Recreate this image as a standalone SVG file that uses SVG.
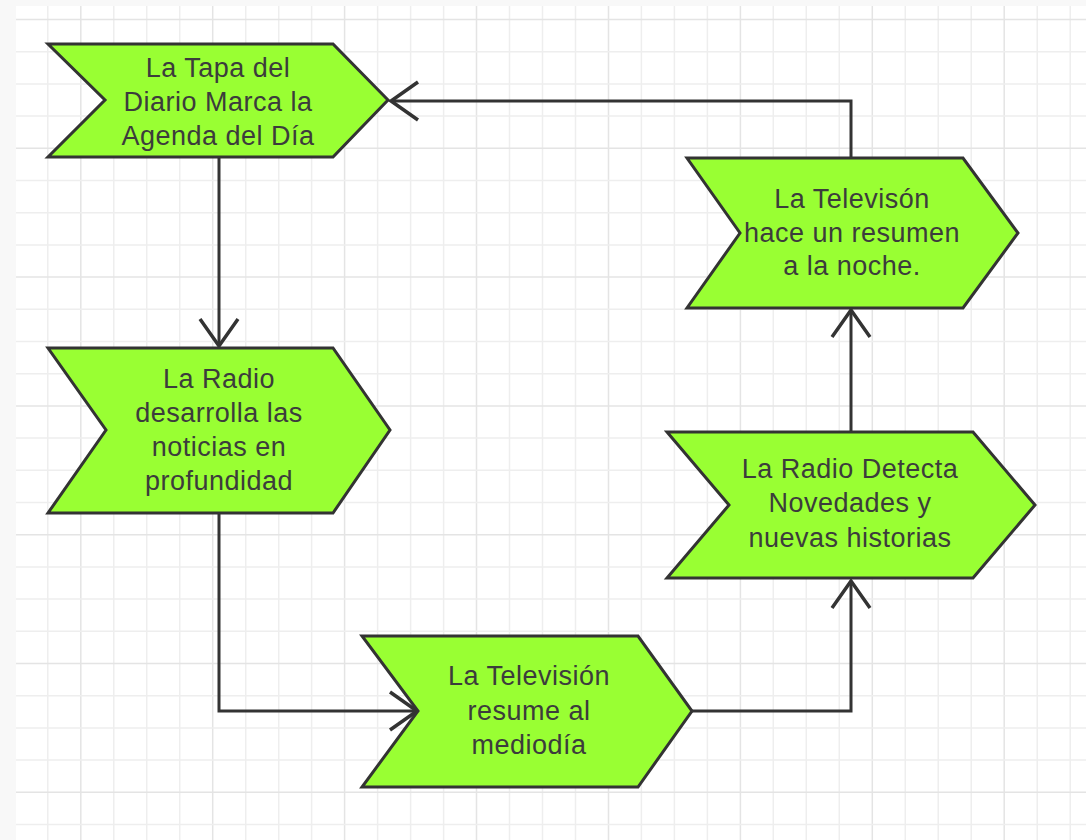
<svg xmlns="http://www.w3.org/2000/svg" width="1086" height="840" viewBox="0 0 1086 840">
<defs>
<style>
.minor{stroke:#eeeeee;stroke-width:1.5}
.major{stroke:#e4e4e4;stroke-width:1.5}
.node{fill:#99ff33;stroke:#333333;stroke-width:3;stroke-linejoin:miter}
.lbl{font-family:"Liberation Sans",Arial,sans-serif;font-size:27px;letter-spacing:0.5px;fill:#3c3c3c;text-anchor:middle}
.edge{fill:none;stroke:#333333;stroke-width:3}
</style>
<marker id="arr" markerUnits="userSpaceOnUse" markerWidth="40" markerHeight="50" viewBox="-30 -25 40 50" refX="0" refY="0" orient="auto">
<path d="M-27,-19 L0,0 L-27,19" fill="none" stroke="#333333" stroke-width="3.5"/>
</marker>
</defs>
<rect x="0" y="0" width="1086" height="840" fill="#f8f8f8"/>
<rect x="16" y="6" width="1070" height="834" fill="#ffffff"/>
<g id="grid">
<line class="minor" x1="47.8" y1="6" x2="47.8" y2="840"/>
<line class="major" x1="80.8" y1="6" x2="80.8" y2="840"/>
<line class="minor" x1="113.8" y1="6" x2="113.8" y2="840"/>
<line class="minor" x1="146.7" y1="6" x2="146.7" y2="840"/>
<line class="minor" x1="179.7" y1="6" x2="179.7" y2="840"/>
<line class="major" x1="212.7" y1="6" x2="212.7" y2="840"/>
<line class="minor" x1="245.7" y1="6" x2="245.7" y2="840"/>
<line class="minor" x1="278.7" y1="6" x2="278.7" y2="840"/>
<line class="minor" x1="311.6" y1="6" x2="311.6" y2="840"/>
<line class="major" x1="344.6" y1="6" x2="344.6" y2="840"/>
<line class="minor" x1="377.6" y1="6" x2="377.6" y2="840"/>
<line class="minor" x1="410.6" y1="6" x2="410.6" y2="840"/>
<line class="minor" x1="443.6" y1="6" x2="443.6" y2="840"/>
<line class="major" x1="476.5" y1="6" x2="476.5" y2="840"/>
<line class="minor" x1="509.5" y1="6" x2="509.5" y2="840"/>
<line class="minor" x1="542.5" y1="6" x2="542.5" y2="840"/>
<line class="minor" x1="575.5" y1="6" x2="575.5" y2="840"/>
<line class="major" x1="608.5" y1="6" x2="608.5" y2="840"/>
<line class="minor" x1="641.4" y1="6" x2="641.4" y2="840"/>
<line class="minor" x1="674.4" y1="6" x2="674.4" y2="840"/>
<line class="minor" x1="707.4" y1="6" x2="707.4" y2="840"/>
<line class="major" x1="740.4" y1="6" x2="740.4" y2="840"/>
<line class="minor" x1="773.3" y1="6" x2="773.3" y2="840"/>
<line class="minor" x1="806.3" y1="6" x2="806.3" y2="840"/>
<line class="minor" x1="839.3" y1="6" x2="839.3" y2="840"/>
<line class="major" x1="872.3" y1="6" x2="872.3" y2="840"/>
<line class="minor" x1="905.3" y1="6" x2="905.3" y2="840"/>
<line class="minor" x1="938.2" y1="6" x2="938.2" y2="840"/>
<line class="minor" x1="971.2" y1="6" x2="971.2" y2="840"/>
<line class="major" x1="1004.2" y1="6" x2="1004.2" y2="840"/>
<line class="minor" x1="1037.2" y1="6" x2="1037.2" y2="840"/>
<line class="minor" x1="1070.2" y1="6" x2="1070.2" y2="840"/>
<line class="major" x1="16" y1="19.5" x2="1086" y2="19.5"/>
<line class="minor" x1="16" y1="51.7" x2="1086" y2="51.7"/>
<line class="minor" x1="16" y1="83.9" x2="1086" y2="83.9"/>
<line class="minor" x1="16" y1="116.1" x2="1086" y2="116.1"/>
<line class="major" x1="16" y1="148.3" x2="1086" y2="148.3"/>
<line class="minor" x1="16" y1="180.5" x2="1086" y2="180.5"/>
<line class="minor" x1="16" y1="212.7" x2="1086" y2="212.7"/>
<line class="minor" x1="16" y1="244.9" x2="1086" y2="244.9"/>
<line class="major" x1="16" y1="277.1" x2="1086" y2="277.1"/>
<line class="minor" x1="16" y1="309.3" x2="1086" y2="309.3"/>
<line class="minor" x1="16" y1="341.5" x2="1086" y2="341.5"/>
<line class="minor" x1="16" y1="373.7" x2="1086" y2="373.7"/>
<line class="major" x1="16" y1="405.9" x2="1086" y2="405.9"/>
<line class="minor" x1="16" y1="438.1" x2="1086" y2="438.1"/>
<line class="minor" x1="16" y1="470.3" x2="1086" y2="470.3"/>
<line class="minor" x1="16" y1="502.5" x2="1086" y2="502.5"/>
<line class="major" x1="16" y1="534.7" x2="1086" y2="534.7"/>
<line class="minor" x1="16" y1="566.9" x2="1086" y2="566.9"/>
<line class="minor" x1="16" y1="599.1" x2="1086" y2="599.1"/>
<line class="minor" x1="16" y1="631.3" x2="1086" y2="631.3"/>
<line class="major" x1="16" y1="663.5" x2="1086" y2="663.5"/>
<line class="minor" x1="16" y1="695.7" x2="1086" y2="695.7"/>
<line class="minor" x1="16" y1="727.9" x2="1086" y2="727.9"/>
<line class="minor" x1="16" y1="760.1" x2="1086" y2="760.1"/>
<line class="major" x1="16" y1="792.3" x2="1086" y2="792.3"/>
<line class="minor" x1="16" y1="824.5" x2="1086" y2="824.5"/>
</g>
<g id="connectors">
<path class="edge" d="M219,157 L219,346" marker-end="url(#arr)"/>
<path class="edge" d="M219,513 L219,711 L417,711" marker-end="url(#arr)"/>
<path class="edge" d="M692,711 L851,711 L851,581" marker-end="url(#arr)"/>
<path class="edge" d="M851,432 L851,310" marker-end="url(#arr)"/>
<path class="edge" d="M851,158 L851,101 L391,101" marker-end="url(#arr)"/>
</g>
<g id="n1">
<polygon class="node" points="48,44 333,44 388,100 333,157 48,157 105,100"/>
<text class="lbl" x="218" y="77">La Tapa del</text>
<text class="lbl" x="218" y="111">Diario Marca la</text>
<text class="lbl" x="218" y="145">Agenda del Día</text>
</g>
<g id="n2">
<polygon class="node" points="48,348 333,348 390,430 333,513 48,513 106,430"/>
<text class="lbl" x="219" y="388">La Radio</text>
<text class="lbl" x="219" y="422">desarrolla las</text>
<text class="lbl" x="219" y="456">noticias en</text>
<text class="lbl" x="219" y="490">profundidad</text>
</g>
<g id="n3">
<polygon class="node" points="362,636 638,636 692,711 638,787 362,787 418,711"/>
<text class="lbl" x="529" y="685">La Televisión</text>
<text class="lbl" x="529" y="720">resume al</text>
<text class="lbl" x="529" y="754">mediodía</text>
</g>
<g id="n4">
<polygon class="node" points="667,432 973,432 1035,505 973,578 667,578 729,505"/>
<text class="lbl" x="850" y="478">La Radio Detecta</text>
<text class="lbl" x="850" y="512">Novedades y</text>
<text class="lbl" x="850" y="547">nuevas historias</text>
</g>
<g id="n5">
<polygon class="node" points="687,158 963,158 1018,233 963,308 687,308 740,233"/>
<text class="lbl" x="852" y="208">La Televisón</text>
<text class="lbl" x="852" y="242">hace un resumen</text>
<text class="lbl" x="852" y="275">a la noche.</text>
</g>
</svg>
